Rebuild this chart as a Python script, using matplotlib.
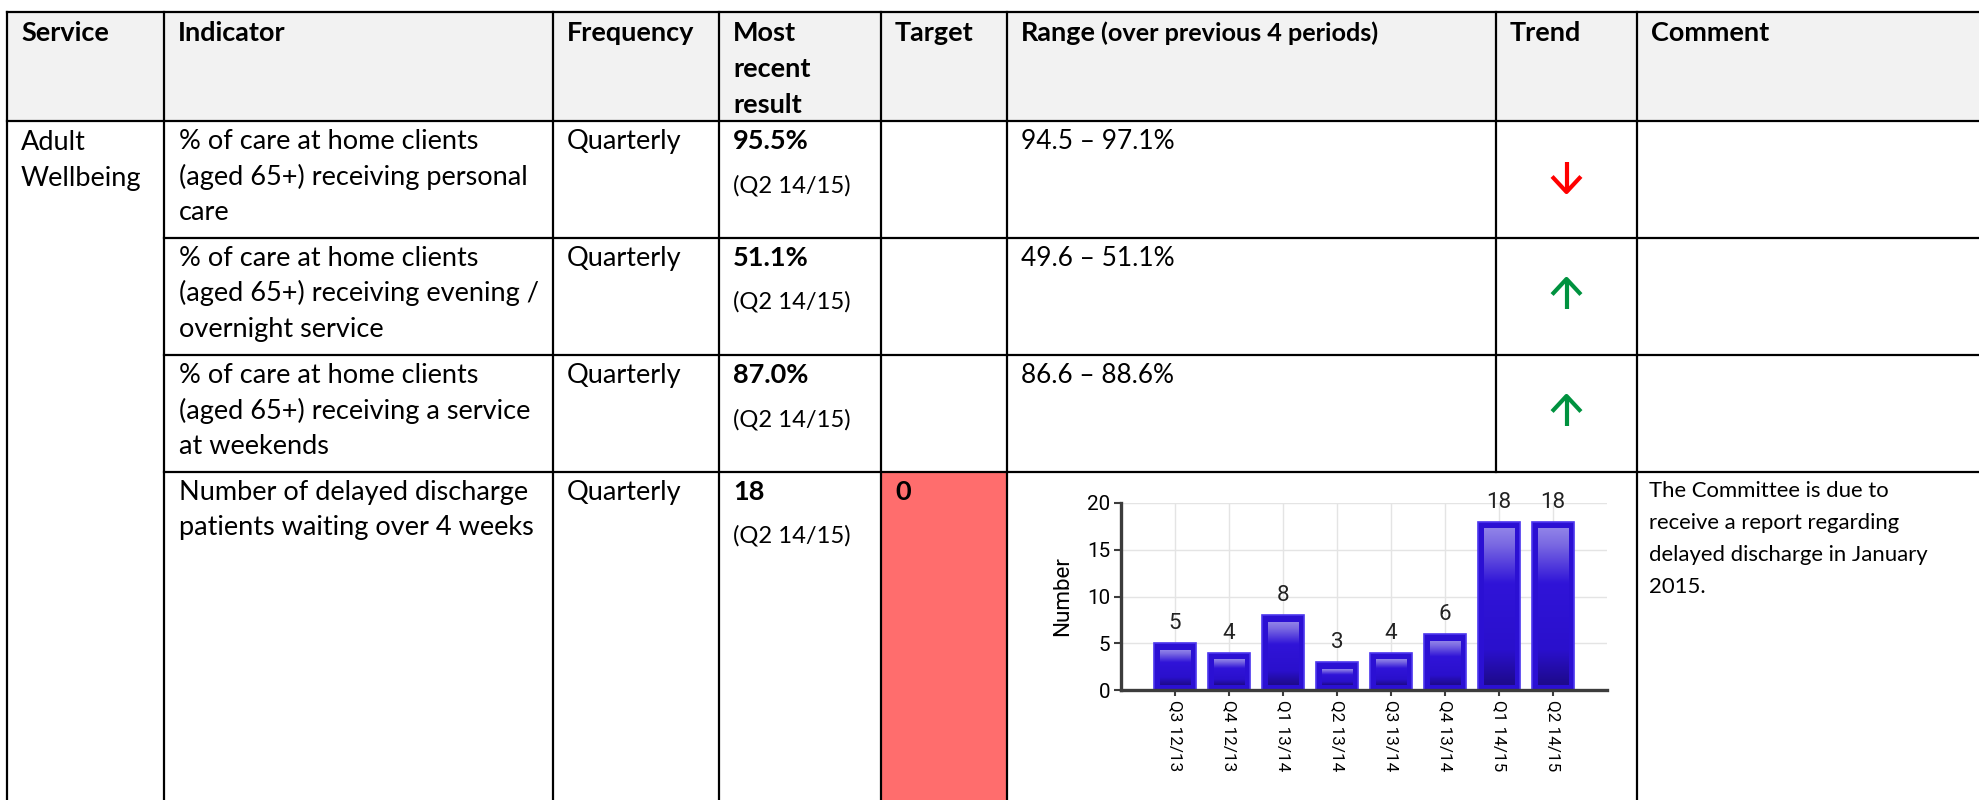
import matplotlib.pyplot as plt
import numpy as np
from matplotlib.colors import LinearSegmentedColormap
from matplotlib.font_manager import FontProperties
from matplotlib.patches import Rectangle

# table content
headers = ["Service", "Indicator", "Frequency", "Most\nrecent\nresult", "Target", "Range", "Trend", "Comment"]
range_note = "(over previous 4 periods)"
service = "Adult\nWellbeing"
indicators = [
    "% of care at home clients\n(aged 65+) receiving personal\ncare",
    "% of care at home clients\n(aged 65+) receiving evening /\novernight service",
    "% of care at home clients\n(aged 65+) receiving a service\nat weekends",
    "Number of delayed discharge\npatients waiting over 4 weeks",
]
frequencies = ["Quarterly", "Quarterly", "Quarterly", "Quarterly"]
results = ["95.5%", "51.1%", "87.0%", "18"]
result_periods = ["(Q2 14/15)", "(Q2 14/15)", "(Q2 14/15)", "(Q2 14/15)"]
targets = ["", "", "", "0"]
ranges = ["94.5 – 97.1%", "49.6 – 51.1%", "86.6 – 88.6%", ""]
trends = ["down", "up", "up", ""]
comments = ["", "", "", "The Committee is due to\nreceive a report regarding\ndelayed discharge in January\n2015."]

# embedded bar chart (delayed discharges)
quarters = ["Q3 12/13", "Q4 12/13", "Q1 13/14", "Q2 13/14", "Q3 13/14", "Q4 13/14", "Q1 14/15", "Q2 14/15"]
delayed = [5, 4, 8, 3, 4, 6, 18, 18]
yticks = [0, 5, 10, 15, 20]

BODY = ["Lato", "DejaVu Sans"]
CHART = ["Liberation Sans Narrow", "Roboto", "DejaVu Sans"]
plt.rcParams["font.family"] = BODY

W, H = 1979, 800
col_x = [7, 164, 553, 719, 881, 1007, 1496, 1637, W]
row_y = [12, 121, 238, 355, 472, H]

fig = plt.figure(figsize=(W / 100, H / 100), dpi=100)
renderer = fig.canvas.get_renderer()


def text_px(s, size, weight="normal", family=BODY):
    fp = FontProperties(family=family, weight=weight, size=size)
    return renderer.get_text_width_height_descent(s, fp, ismath=False)[0]


def fit(s, px, weight="normal", family=BODY):
    # font size that makes s about px pixels wide
    return 10 * px / text_px(s, 10, weight, family)


head_sz = fit("Indicator", 108, "bold")
body_sz = fit("% of care at home clients", 299)
period_sz = fit("(Q2 14/15)", 118)
range_sz = fit("94.5 – 97.1%", 153)
note_sz = fit(range_note, 280, "bold")
comm_sz = fit("delayed discharge in January", 279)

tab = fig.add_axes([0, 0, 1, 1])
tab.set_xlim(0, W)
tab.set_ylim(H, 0)
tab.axis("off")


def put(x, y, s, size, step, **kw):
    for i, line in enumerate(s.split("\n")):
        tab.text(x, y + i * step, line, fontsize=size, va="baseline", ha="left", color="black", **kw)


# fills
tab.add_patch(Rectangle((col_x[0], row_y[0]), W - col_x[0], row_y[1] - row_y[0], fc="#f2f2f2", ec="none", zorder=0))
tab.add_patch(Rectangle((col_x[4], row_y[4]), col_x[5] - col_x[4], row_y[5] - row_y[4], fc="#ff6d6d", ec="none", zorder=0))

# grid lines
lw = 1.6
tab.plot([col_x[0], W], [row_y[0]] * 2, color="black", lw=lw)
tab.plot([col_x[0], W], [row_y[1]] * 2, color="black", lw=lw)
for y in row_y[2:5]:
    tab.plot([col_x[1], W], [y, y], color="black", lw=lw)
for i, x in enumerate(col_x[:-1]):
    bottom = row_y[4] if i == 6 else H
    tab.plot([x, x], [row_y[0], bottom], color="black", lw=lw)

# header
for i, h in enumerate(headers):
    put(col_x[i] + 14, 41, h, head_sz, 36, fontweight="bold")
note_x = col_x[5] + 14 + text_px("Range", head_sz, "bold") + 5
tab.text(note_x, 41, range_note, fontsize=note_sz, fontweight="bold", va="baseline", ha="left")

# body
put(col_x[0] + 14, row_y[1] + 29, service, body_sz, 36)
for r in range(4):
    top = row_y[r + 1]
    base = top + 28
    put(col_x[1] + 15, base, indicators[r], body_sz, 35.5)
    put(col_x[2] + 14, base, frequencies[r], body_sz, 36)
    put(col_x[3] + 14, base, results[r], body_sz, 36, fontweight="bold")
    put(col_x[3] + 14, base + 43, result_periods[r], period_sz, 36)
    if targets[r]:
        put(col_x[4] + 14, base, targets[r], body_sz, 36, fontweight="bold")
    if ranges[r]:
        put(col_x[5] + 14, base, ranges[r], range_sz, 36)
    if comments[r]:
        put(col_x[7] + 12, top + 25, comments[r], comm_sz, 32)
    if trends[r]:
        ax_x = (col_x[6] + col_x[7]) / 2
        y0, y1 = top + 41, top + 71
        c = "#ff0000" if trends[r] == "down" else "#00923f"
        tab.plot([ax_x, ax_x], [y0, y1], color=c, lw=3, solid_capstyle="butt")
        if trends[r] == "down":
            tab.plot([ax_x - 13, ax_x, ax_x + 13], [y1 - 14, y1, y1 - 14], color=c, lw=3)
        else:
            tab.plot([ax_x - 13, ax_x, ax_x + 13], [y0 + 14, y0, y0 + 14], color=c, lw=3)

# chart
tick_sz = fit("Q3 12/13", 71, family=CHART)
ytick_sz = fit("20", 23, family=CHART)
val_sz = fit("18", 25, family=CHART)
lab_sz = fit("Number", 80, family=CHART)

ch = fig.add_axes([1121 / W, (H - 690) / H, 486 / W, 187 / H])
x = np.arange(len(quarters))
ch.set_axisbelow(True)
ch.grid(True, color="#e4e4e4", lw=1)
ch.bar(x, delayed, width=0.78, color="#2b10d3", edgecolor="#4c36ee", linewidth=1.2, zorder=2)
grad = LinearSegmentedColormap.from_list(
    "bar", [(0, "#1d0a8a"), (0.22, "#2a10cc"), (0.65, "#3014d8"), (0.9, "#7b6ae2"), (1, "#9083e8")]
)
img = np.linspace(0, 1, 256).reshape(-1, 1)
for i, v in enumerate(delayed):
    ch.imshow(img, cmap=grad, origin="lower", aspect="auto",
              extent=(i - 0.27, i + 0.29, 0.55, v - 0.75), zorder=3)
    ch.annotate(str(v), (i, v), xytext=(0, 10), textcoords="offset points", ha="center",
                va="baseline", fontsize=val_sz, family=CHART, color="#222222")
ch.set_xlim(-1, 8)
ch.set_ylim(0, 20)
ch.set_xticks(x)
ch.set_xticklabels(quarters, rotation=270, ha="center", va="top", fontsize=tick_sz, family=CHART)
ch.set_yticks(yticks)
ch.set_yticklabels([str(t) for t in yticks], fontsize=ytick_sz, family=CHART)
ch.tick_params(axis="x", length=4, width=1.5, color="#3c3c3c", pad=3)
ch.tick_params(axis="y", length=5, width=1.5, color="#3c3c3c", pad=3)
for s in ["top", "right"]:
    ch.spines[s].set_visible(False)
for s in ["left", "bottom"]:
    ch.spines[s].set_color("#3c3c3c")
    ch.spines[s].set_linewidth(2.4)
ch.set_ylabel("Number", fontsize=lab_sz, family=CHART)
ch.yaxis.set_label_coords(-0.099, 0.5)

fig.savefig("out.png", dpi=100)
